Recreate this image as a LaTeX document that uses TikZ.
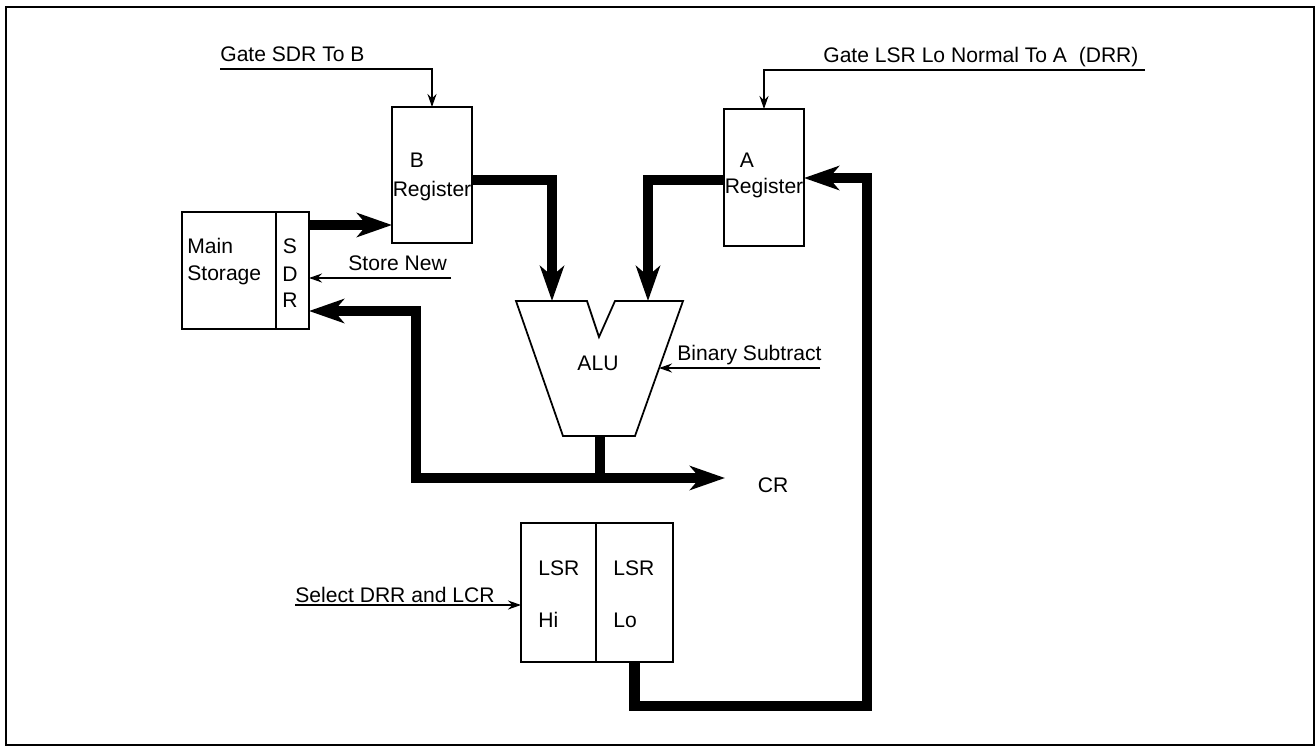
\documentclass[tikz,border=0pt]{standalone}
\usepackage{fontspec}
\setmainfont{Liberation Sans}
\usetikzlibrary{arrows.meta,positioning}
\tikzset{
  >={Stealth[length=7mm,width=4.8mm,inset=2mm]},
  regbox/.style={draw,line width=1pt,inner sep=0pt,outer sep=0pt},
  lbl/.style={font=\fontsize{12}{14}\selectfont,inner sep=0pt},
  ctrlarrow/.style={-{Stealth[length=2.6mm,width=1.8mm]},line width=0.7pt},
  busline/.style={line width=6.2pt,line join=miter},
  busarrow/.style={busline,->},
  busboth/.style={busline,<->}
}
\begin{document}
\begin{tikzpicture}[x=0.02cm,y=-0.02cm]
  \useasboundingbox (0,0) rectangle (1316,748);
  % outer frame of the figure
  \draw[line width=1pt] (6,7) rectangle (1314,745);

  % storage, registers and local storage
  \node[regbox,minimum width=1.88cm,minimum height=2.34cm] (ms) at (229,270.5) {};
  \node[regbox,minimum width=0.66cm,minimum height=2.34cm,right=0pt of ms] (sdr) {};
  \node[regbox,minimum width=1.6cm,minimum height=2.72cm] (breg) at (432,175) {};
  \node[regbox,minimum width=1.6cm,minimum height=2.74cm] (areg) at (764,177.5) {};
  \node[regbox,minimum width=1.5cm,minimum height=2.78cm] (lsrhi) at (558.5,592.5) {};
  \node[regbox,minimum width=1.54cm,minimum height=2.78cm,right=0pt of lsrhi] (lsrlo) {};

  \node[lbl,anchor=base west] (msmain) at (187,253) {Main};
  \node[lbl,anchor=base west] (msstor) at (187,280) {Storage};
  \node[lbl,anchor=base] (sdrs) at (290,253) {S};
  \node[lbl,anchor=base] (sdrd) at (290,281) {D};
  \node[lbl,anchor=base] (sdrr) at (290,307) {R};
  \node[lbl,anchor=base] (bname) at (417,167) {B};
  \node[lbl,anchor=base] (breglbl) at (432,196) {Register};
  \node[lbl,anchor=base] (aname) at (747,167) {A};
  \node[lbl,anchor=base] (areglbl) at (764,193) {Register};
  \node[lbl,anchor=base west] (hilsr) at (538,575) {LSR};
  \node[lbl,anchor=base west] (hihi) at (538,627) {Hi};
  \node[lbl,anchor=base west] (lolsr) at (613,575) {LSR};
  \node[lbl,anchor=base west] (lolo) at (613,627) {Lo};

  % ALU outline with its notch
  \coordinate (aluTL) at (516,301);
  \coordinate (notchL) at (587,301);
  \coordinate (notchB) at (599,337);
  \coordinate (notchR) at (615,301);
  \coordinate (aluTR) at (683,301);
  \coordinate (aluBR) at (635,436);
  \coordinate (aluBL) at (563,436);
  \draw[line width=1pt,line join=miter] (aluTL) -- (notchL) -- (notchB) -- (notchR)
    -- (aluTR) -- (aluBR) -- (aluBL) -- cycle;
  \node[lbl,anchor=base] (alulbl) at (598,370) {ALU};
  \coordinate (aluinB) at (552,301);
  \coordinate (aluinA) at (648,301);
  \coordinate (aluR) at (659,368);
  \coordinate (alustem) at (600,436);

  % control lines
  \node[lbl,anchor=base west] (gsdr) at (220,61) {Gate SDR To B};
  \coordinate (gsdrL) at (220,69);
  \draw[ctrlarrow] (gsdrL) -| (breg.north);
  \node[lbl,anchor=base west] (glsr) at (823,62) {Gate LSR Lo Normal To A\ \ (DRR)};
  \coordinate (glsrR) at (1145,70);
  \draw[ctrlarrow] (glsrR) -| (areg.north);
  \node[lbl,anchor=base west] (stnew) at (348,270) {Store New};
  \coordinate (snR) at (451,278);
  \draw[ctrlarrow] (snR) -- (snR -| sdr.east);
  \node[lbl,anchor=base west] (binsub) at (677,360) {Binary Subtract};
  \coordinate (bsR) at (820,368);
  \draw[ctrlarrow] (bsR) -- (aluR);
  \node[lbl,anchor=base west] (seldrr) at (295,602) {Select DRR and LCR};
  \coordinate (selL) at (295,605);
  \draw[ctrlarrow] (selL) -- (selL -| lsrhi.west);

  % data buses
  \coordinate (busB) at (0,225);
  \coordinate (busTop) at (0,180);
  \coordinate (busR) at (0,311);
  \coordinate (busL) at (416,478);
  \coordinate (crtip) at (725,478);
  \coordinate (fbB) at (867,706);
  \coordinate (fbT) at (0,178);
  \draw[busarrow] (sdr.east |- busB) -- (breg.west |- busB);
  \draw[busarrow] (breg.east |- busTop) -| (aluinB);
  \draw[busarrow] (areg.west |- busTop) -| (aluinA);
  \draw[busline] (alustem) -- (alustem |- busL);
  \draw[busboth] (sdr.east |- busR) -| (busL) -- (crtip);
  \node[lbl,anchor=base] (crlbl) at (773,492) {CR};
  \draw[busarrow] (lsrlo.south) |- (fbB) |- (areg.east |- fbT);
\end{tikzpicture}
\end{document}
